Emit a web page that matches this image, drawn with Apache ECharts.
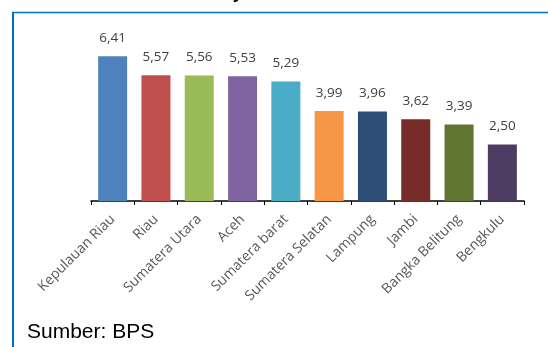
<!DOCTYPE html>
<html>
<head>
<meta charset="utf-8">
<script src="https://cdn.jsdelivr.net/npm/echarts@6/dist/echarts.min.js"></script>
<style>
  html, body { margin: 0; padding: 0; background: #fff; }
  #chart { width: 548px; height: 347px; }
</style>
</head>
<body>
<div id="chart"></div>
<script>
// provinsi
var provinces = ['Kepulauan Riau', 'Riau', 'Sumatera Utara', 'Aceh', 'Sumatera barat',
  'Sumatera Selatan', 'Lampung', 'Jambi', 'Bangka Belitung', 'Bengkulu']
// nilai
var values = [6.41, 5.57, 5.56, 5.53, 5.29, 3.99, 3.96, 3.62, 3.39, 2.50]
// warna tiap batang
var colors = ['#4F81BD', '#C0504D', '#9BBB59', '#8064A2', '#4BACC6',
  '#F79646', '#2C4D75', '#772C2A', '#5F7530', '#4D3B62']

var chart = echarts.init(document.getElementById('chart'))

chart.setOption({
  animation: false,
  grid: { left: 91, right: 24, top: 43, bottom: 146 },
  graphic: [
    // judul yang terpotong di atas
    {
      type: 'text', left: 175, top: -16,
      style: { text: 'di Wilayah Sumatera', font: 'bold 18px Arial', fill: '#000' }
    },
    // bingkai biru
    { type: 'line', shape: { x1: 12, y1: 12.5, x2: 548, y2: 12.5 }, style: { stroke: '#0070C0', lineWidth: 1.5 } },
    { type: 'line', shape: { x1: 13, y1: 12, x2: 13, y2: 347 }, style: { stroke: '#0070C0', lineWidth: 2 } },
    {
      type: 'text', left: 27, top: 322,
      style: { text: 'Sumber: BPS', font: '21px Arial', fill: '#000' }
    }
  ],
  xAxis: {
    type: 'category',
    data: provinces,
    axisLine: { lineStyle: { color: '#000', width: 1.5 } },
    axisTick: { show: true, length: 4, lineStyle: { color: '#000' } },
    axisLabel: {
      rotate: 45,
      interval: 0,
      margin: 16,
      color: '#595959',
      fontFamily: 'Open Sans',
      fontSize: 14
    }
  },
  yAxis: {
    type: 'value',
    min: 0,
    max: 7,
    show: false,
    splitLine: { show: false }
  },
  series: [{
    type: 'bar',
    barWidth: '67%',
    data: values.map(function (v, i) {
      return { value: v, itemStyle: { color: colors[i] } }
    }),
    label: {
      show: true,
      position: 'top',
      distance: 11,
      color: '#404040',
      fontFamily: 'Open Sans',
      fontSize: 13.5,
      formatter: function (p) {
        return p.value.toFixed(2).replace('.', ',')
      }
    }
  }]
})
</script>
</body>
</html>
